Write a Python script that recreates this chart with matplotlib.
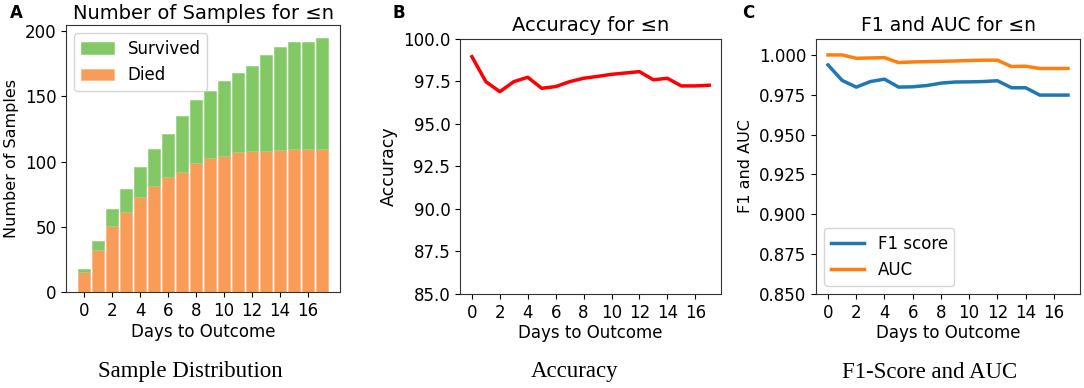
import matplotlib.pyplot as plt

# data
days = list(range(18))
died = [15, 32, 51, 61, 73, 81, 88, 92, 99, 103, 104, 107, 108, 108, 109, 110, 110, 110]
total = [18, 39, 64, 79, 96, 110, 121, 135, 147, 154, 162, 168, 173, 182, 188, 192, 192, 195]
survived = [t - d for t, d in zip(total, died)]

accuracy = [98.96, 97.49, 96.90, 97.49, 97.75, 97.10, 97.20, 97.49, 97.69, 97.80,
            97.92, 98.00, 98.08, 97.60, 97.69, 97.24, 97.24, 97.28]

f1 = [0.9937, 0.9840, 0.9798, 0.9833, 0.9848, 0.9798, 0.9800, 0.9808, 0.9823, 0.9830,
      0.9831, 0.9833, 0.9838, 0.9794, 0.9794, 0.9748, 0.9748, 0.9748]
auc = [1.0000, 1.0000, 0.9979, 0.9981, 0.9983, 0.9952, 0.9956, 0.9958, 0.9960, 0.9962,
       0.9965, 0.9967, 0.9967, 0.9927, 0.9929, 0.9915, 0.9915, 0.9915]

xticks = list(range(0, 17, 2))

fig = plt.figure(figsize=(10.84, 3.88), dpi=100)

# panel A
ax1 = fig.add_axes([0.0609, 0.2474, 0.2528, 0.6881])
ax1.bar(days, died, color='#f99c57', edgecolor='#fbb884', linewidth=0.6, label='Died')
ax1.bar(days, survived, bottom=died, color='#82c864', edgecolor='#9ed486', linewidth=0.6,
        label='Survived')
h, l = ax1.get_legend_handles_labels()
ax1.legend(h[::-1], l[::-1], loc='upper left', fontsize=12)
ax1.set_title('Number of Samples for ≤n', fontsize=14, pad=4)
ax1.set_ylabel('Number of Samples', fontsize=11.5)
ax1.set_yticks([0, 50, 100, 150, 200])

# panel B
ax2 = fig.add_axes([0.4244, 0.2423, 0.2408, 0.6572])
ax2.plot(days, accuracy, color='red', lw=2.5)
ax2.set_ylim(85, 100)
ax2.set_title('Accuracy for ≤n', fontsize=14, pad=6)
ax2.set_ylabel('Accuracy', fontsize=12.5)

# panel C
ax3 = fig.add_axes([0.7528, 0.2423, 0.2435, 0.6572])
ax3.plot(days, f1, color='#1f77b4', lw=2.5, label='F1 score')
ax3.plot(days, auc, color='#ff7f0e', lw=2.5, label='AUC')
ax3.set_ylim(0.85, 1.01)
ax3.set_yticks([0.85, 0.875, 0.9, 0.925, 0.95, 0.975, 1.0])
ax3.set_yticklabels(['0.850', '0.875', '0.900', '0.925', '0.950', '0.975', '1.000'])
ax3.legend(loc='lower left', fontsize=12)
ax3.set_title('F1 and AUC for ≤n', fontsize=13.5, pad=6)
ax3.set_ylabel('F1 and AUC', fontsize=11.5)

for ax in (ax1, ax2, ax3):
    ax.set_xticks(xticks)
    ax.tick_params(labelsize=12)
    ax.set_xlabel('Days to Outcome', fontsize=12, labelpad=2)
    for s in ax.spines.values():
        s.set_color('#333333')

# panel letters
fig.text(10 / 1084, 1 - 13 / 388, 'A', fontsize=12, fontweight='bold', va='center')
fig.text(392 / 1084, 1 - 13 / 388, 'B', fontsize=12, fontweight='bold', va='center')
fig.text(742 / 1084, 1 - 13 / 388, 'C', fontsize=12, fontweight='bold', va='center')

# captions
for xc, txt in [(190, 'Sample Distribution'), (575, 'Accuracy'), (930, 'F1-Score and AUC')]:
    fig.text(xc / 1084, 1 - 372 / 388, txt, fontsize=16.5, family='Liberation Serif',
             ha='center', va='center')

plt.savefig('out.png', dpi=100)
